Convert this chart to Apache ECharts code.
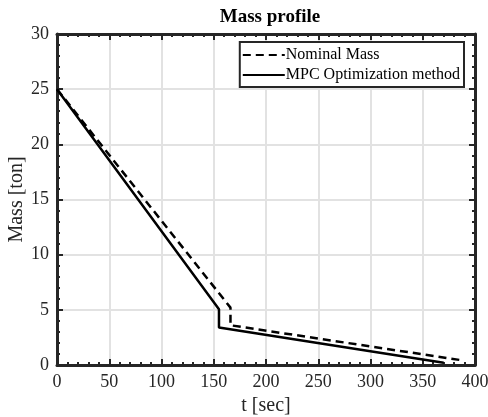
<!DOCTYPE html>
<html><head><meta charset="utf-8">
<script src="https://cdn.jsdelivr.net/npm/echarts@6/dist/echarts.min.js"></script>
<style>html,body{margin:0;padding:0;background:#fff}#c{width:488px;height:417px}</style>
</head><body><div id="c"></div>
<script>
const nominalT = [0, 166, 166, 386];
const nominalM = [25, 5.2, 3.6, 0.45];
const mpcT = [0, 155, 155, 370];
const mpcM = [25, 5.05, 3.4, 0.2];
const xTicks = [0, 50, 100, 150, 200, 250, 300, 350, 400];
const yTicks = [0, 5, 10, 15, 20, 25, 30];
const seriesNames = ['Nominal Mass', 'MPC Optimization method'];

const FONT = 'Liberation Serif';
const dark = '#262626';
const chart = echarts.init(document.getElementById('c'), null, {renderer: 'canvas'});
const axisCommon = (show) => ({
  axisLine: {show: true, onZero: false, lineStyle: {color: dark, width: 3}},
  axisTick: {show: true, inside: true, length: 6, lineStyle: {color: dark, width: 2}},
  minorTick: {show: true, splitNumber: 5, length: 3, lineStyle: {color: dark, width: 2}},
  axisLabel: {show: show, color: '#262626', fontFamily: FONT, fontSize: 18, margin: 8},
});
chart.setOption({
  animation: false,
  title: {text: 'Mass profile', left: 265, top: 3, textAlign: 'center',
    textStyle: {fontFamily: FONT, fontSize: 19, fontWeight: 'bold', color: '#000'}},
  legend: {
    data: seriesNames, orient: 'vertical', right: 24, top: 42,
    borderColor: dark, borderWidth: 2, padding: [5, 4, 4, 2], itemGap: 4,
    itemWidth: 42, itemHeight: 12,
    itemStyle: {opacity: 0},
    lineStyle: {opacity: 1},
    textStyle: {fontFamily: FONT, fontSize: 16, color: '#000', padding: [0, 0, 0, -4]},
    backgroundColor: '#fff'
  },
  grid: {left: 57, right: 13, top: 34, bottom: 52, containLabel: false, outerBoundsMode: 'none'},
  xAxis: [
    Object.assign({type: 'value', min: 0, max: 400, interval: 50, position: 'bottom',
      name: 't [sec]', nameLocation: 'middle', nameGap: 31, nameMoveOverlap: false,
      nameTextStyle: {fontFamily: FONT, fontSize: 20, color: '#262626'},
      splitLine: {show: true, lineStyle: {color: '#e2e2e2', width: 2}}}, axisCommon(true)),
    Object.assign({type: 'value', min: 0, max: 400, interval: 50, position: 'top',
      splitLine: {show: false}}, axisCommon(false))
  ],
  yAxis: [
    Object.assign({type: 'value', min: 0, max: 30, interval: 5, position: 'left',
      name: 'Mass [ton]', nameLocation: 'middle', nameGap: 30, nameMoveOverlap: false,
      nameTextStyle: {fontFamily: FONT, fontSize: 20, color: '#262626'},
      splitLine: {show: true, lineStyle: {color: '#e2e2e2', width: 2}}}, axisCommon(true)),
    Object.assign({type: 'value', min: 0, max: 30, interval: 5, position: 'right',
      splitLine: {show: false}}, axisCommon(false))
  ],
  series: [
    {name: seriesNames[0], type: 'line', showSymbol: false, symbol: 'none',
      data: nominalT.map((t, i) => [t, nominalM[i]]),
      lineStyle: {color: '#000', width: 2.5, type: [8, 5]}, itemStyle: {color: '#000'}},
    {name: seriesNames[1], type: 'line', showSymbol: false, symbol: 'none',
      data: mpcT.map((t, i) => [t, mpcM[i]]),
      lineStyle: {color: '#000', width: 2.5, type: 'solid'}, itemStyle: {color: '#000'}}
  ]
});
</script></body></html>
